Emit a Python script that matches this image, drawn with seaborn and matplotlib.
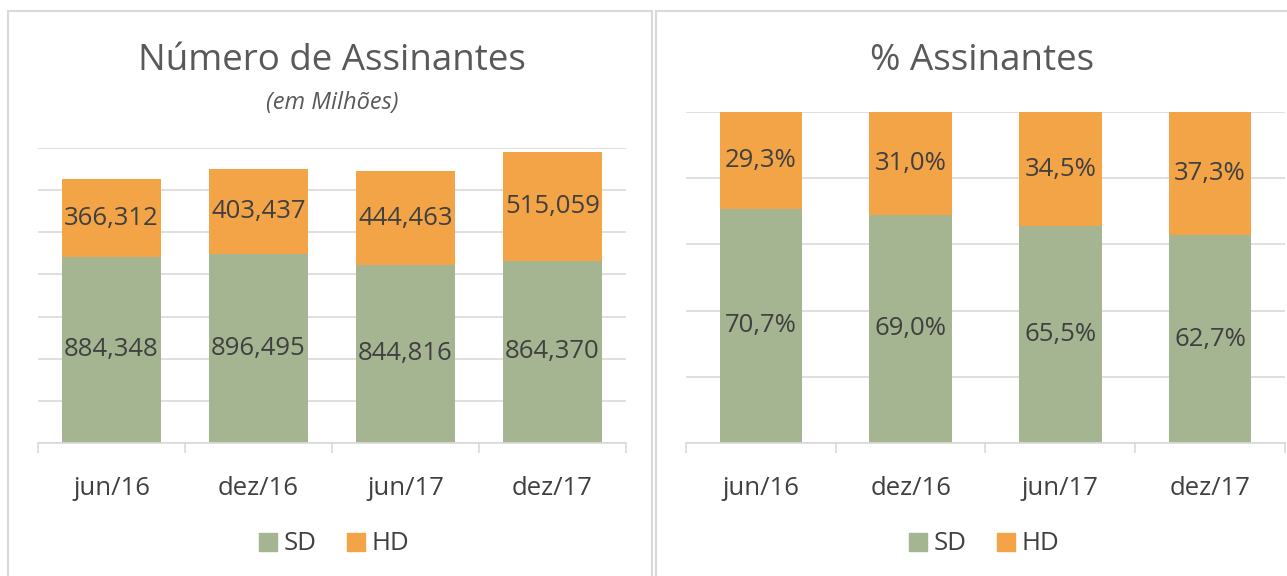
import matplotlib
matplotlib.use("Agg")
import matplotlib.pyplot as plt
import matplotlib.patches as mpatches
import numpy as np
import pandas as pd
import seaborn as sns

categories = ["jun/16", "dez/16", "jun/17", "dez/17"]
sd_count = [884.348, 896.495, 844.816, 864.370]
hd_count = [366.312, 403.437, 444.463, 515.059]
sd_count_labels = ["884,348", "896,495", "844,816", "864,370"]
hd_count_labels = ["366,312", "403,437", "444,463", "515,059"]
sd_pct = [70.7, 69.0, 65.5, 62.7]
hd_pct = [29.3, 31.0, 34.5, 37.3]
sd_pct_labels = ["70,7%", "69,0%", "65,5%", "62,7%"]
hd_pct_labels = ["29,3%", "31,0%", "34,5%", "37,3%"]

GREEN = "#A5B592"
ORANGE = "#F3A447"
GRID = "#D9D9D9"
TXT = "#404040"
TITLE = "#595959"

sns.set_theme(style="white")
plt.rcParams["font.family"] = ["Open Sans", "DejaVu Sans"]

W, H = 1287, 576
fig = plt.figure(figsize=(W / 100, H / 100), dpi=100)

def fx(px):
    return px / W

def fy(py):
    return 1 - py / H

# panel borders
for (x0, y0, x1, y1) in [(8, 11, 652, 590), (656, 11, 1300, 590)]:
    fig.patches.append(mpatches.Rectangle((fx(x0), fy(y1)), fx(x1 - x0), fy(y0) - fy(y1),
                                          transform=fig.transFigure, fill=False,
                                          edgecolor=GRID, linewidth=1.5))

LBL = 18.5

def draw(ax, sd, hd, sd_lab, hd_lab, ymax, step, width):
    df = pd.DataFrame({"cat": categories, "sd": sd, "hd": hd})
    df["total"] = df["sd"] + df["hd"]
    sns.barplot(data=df, x="cat", y="total", color=ORANGE, saturation=1, width=width, ax=ax, linewidth=0)
    sns.barplot(data=df, x="cat", y="sd", color=GREEN, saturation=1, width=width, ax=ax, linewidth=0)
    ax.set_ylim(0, ymax)
    ax.set_xlim(-0.5, len(categories) - 0.5)
    ax.set_yticks(np.arange(0, ymax + step / 2, step))
    ax.set_yticklabels([])
    ax.yaxis.grid(True, color=GRID, linewidth=1.2)
    ax.set_axisbelow(True)
    for s in ["left", "right", "top"]:
        ax.spines[s].set_visible(False)
    ax.spines["bottom"].set_color(GRID)
    ax.spines["bottom"].set_linewidth(1.2)
    ax.tick_params(axis="y", length=0)
    ax.tick_params(axis="x", which="major", length=0, pad=24, labelsize=LBL, labelcolor=TXT)
    ax.set_xticks(np.arange(-0.5, len(categories)), minor=True)
    ax.tick_params(axis="x", which="minor", length=7, width=1.2, color=GRID, bottom=True)
    ax.set_xlabel("")
    ax.set_ylabel("")
    for i in range(len(categories)):
        ax.text(i, sd[i] / 2, sd_lab[i], ha="center", va="center", fontsize=LBL, color=TXT)
        ax.text(i, sd[i] + hd[i] / 2, hd_lab[i], ha="center", va="center", fontsize=LBL, color=TXT)

ax1 = fig.add_axes([fx(38), fy(443), fx(626 - 38), fy(148) - fy(443)])
draw(ax1, sd_count, hd_count, sd_count_labels, hd_count_labels, 1400, 200, 0.667)

ax2 = fig.add_axes([fx(686), fy(443), fx(1285 - 686), fy(112) - fy(443)])
draw(ax2, sd_pct, hd_pct, sd_pct_labels, hd_pct_labels, 100, 20, 0.55)

fig.text(fx(332), fy(61), "Número de Assinantes", ha="center", va="center", fontsize=26.5, color=TITLE)
fig.text(fx(332), fy(103), "(em Milhões)", ha="center", va="center", fontsize=17, color=TITLE, style="italic")
fig.text(fx(982), fy(61), "% Assinantes", ha="center", va="center", fontsize=26.5, color=TITLE)

handles = [mpatches.Patch(color=GREEN, label="SD"), mpatches.Patch(color=ORANGE, label="HD")]
for cx in (334, 984):
    fig.legend(handles=handles, loc="center", bbox_to_anchor=(fx(cx), fy(544)), ncol=2, frameon=False,
               fontsize=LBL, handlelength=0.7, handleheight=0.7, handletextpad=0.25, columnspacing=1.2,
               labelcolor=TXT)

fig.savefig("out.png", dpi=100, facecolor="white")
